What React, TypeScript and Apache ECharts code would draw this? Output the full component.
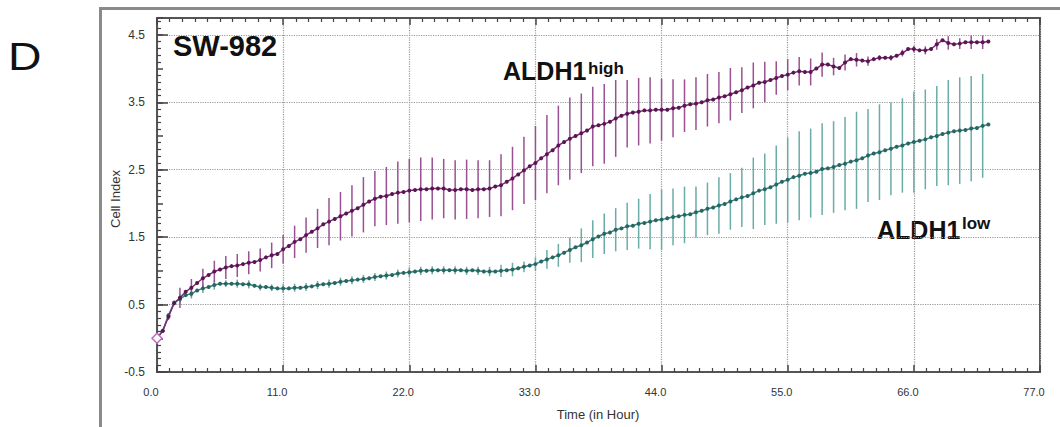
import React, { useEffect, useRef } from 'react';
import * as echarts from 'echarts';

// Sampling: one reading every 0.5 h, error bars every 1 h (from 1 h)
const SAMPLE_STEP_H = 0.5;
const ERR_FIRST_H = 1;

// ALDH1 high – mean Cell Index (0 h .. 72.5 h, step 0.5 h)
const highMean = [
  0.00, 0.11, 0.32, 0.52, 0.60, 0.69, 0.75, 0.82, 0.89, 0.94,
  0.99, 1.02, 1.05, 1.07, 1.08, 1.10, 1.12, 1.13, 1.16, 1.20,
  1.23, 1.25, 1.32, 1.37, 1.43, 1.47, 1.53, 1.58, 1.63, 1.69,
  1.73, 1.77, 1.81, 1.85, 1.89, 1.93, 1.98, 2.03, 2.07, 2.10,
  2.11, 2.14, 2.16, 2.17, 2.19, 2.20, 2.21, 2.21, 2.22, 2.22,
  2.22, 2.20, 2.20, 2.21, 2.21, 2.20, 2.21, 2.21, 2.22, 2.25,
  2.27, 2.32, 2.37, 2.43, 2.49, 2.55, 2.60, 2.67, 2.73, 2.79,
  2.86, 2.91, 2.96, 3.00, 3.04, 3.08, 3.14, 3.16, 3.18, 3.21,
  3.26, 3.30, 3.33, 3.35, 3.36, 3.38, 3.38, 3.39, 3.39, 3.39,
  3.41, 3.42, 3.45, 3.47, 3.48, 3.50, 3.53, 3.54, 3.57, 3.59,
  3.62, 3.65, 3.68, 3.72, 3.75, 3.79, 3.80, 3.83, 3.86, 3.89,
  3.91, 3.94, 3.96, 3.95, 3.95, 4.00, 4.06, 4.06, 4.03, 4.01,
  4.09, 4.14, 4.13, 4.12, 4.11, 4.14, 4.16, 4.16, 4.16, 4.19,
  4.23, 4.29, 4.29, 4.27, 4.27, 4.29, 4.36, 4.42, 4.38, 4.36,
  4.37, 4.39, 4.39, 4.39, 4.39, 4.40,
];

// ALDH1 low – mean Cell Index (0 h .. 72.5 h, step 0.5 h)
const lowMean = [
  0.00, 0.11, 0.34, 0.53, 0.58, 0.64, 0.66, 0.71, 0.74, 0.76,
  0.79, 0.81, 0.81, 0.81, 0.81, 0.80, 0.80, 0.78, 0.76, 0.76,
  0.75, 0.74, 0.74, 0.74, 0.75, 0.75, 0.76, 0.77, 0.79, 0.80,
  0.81, 0.82, 0.84, 0.85, 0.86, 0.87, 0.88, 0.89, 0.91, 0.92,
  0.93, 0.94, 0.96, 0.97, 0.98, 0.99, 1.00, 1.00, 1.01, 1.01,
  1.01, 1.01, 1.01, 1.01, 1.00, 1.01, 1.00, 0.99, 0.99, 0.99,
  1.00, 1.01, 1.02, 1.04, 1.06, 1.08, 1.10, 1.14, 1.17, 1.20,
  1.23, 1.27, 1.31, 1.35, 1.38, 1.42, 1.47, 1.51, 1.55, 1.57,
  1.61, 1.63, 1.66, 1.67, 1.70, 1.71, 1.73, 1.75, 1.76, 1.78,
  1.80, 1.81, 1.83, 1.84, 1.87, 1.89, 1.92, 1.94, 1.97, 1.99,
  2.03, 2.06, 2.09, 2.11, 2.15, 2.19, 2.21, 2.24, 2.28, 2.32,
  2.35, 2.39, 2.41, 2.44, 2.45, 2.47, 2.51, 2.52, 2.54, 2.57,
  2.59, 2.62, 2.64, 2.67, 2.71, 2.74, 2.76, 2.79, 2.81, 2.84,
  2.86, 2.89, 2.91, 2.93, 2.95, 2.98, 3.00, 3.03, 3.05, 3.07,
  3.08, 3.09, 3.11, 3.12, 3.15, 3.17,
];

// Standard deviation (half error bar), hours 1 .. 72
const highErr = [
  0.05, 0.15, 0.13, 0.14, 0.16, 0.17, 0.17, 0.17, 0.17, 0.19,
  0.21, 0.24, 0.26, 0.29, 0.35, 0.36, 0.38, 0.41, 0.41, 0.43,
  0.46, 0.47, 0.47, 0.46, 0.44, 0.44, 0.44, 0.43, 0.42, 0.46,
  0.47, 0.50, 0.55, 0.58, 0.59, 0.61, 0.59, 0.59, 0.59, 0.57,
  0.50, 0.50, 0.49, 0.46, 0.43, 0.39, 0.39, 0.39, 0.38, 0.39,
  0.34, 0.34, 0.30, 0.25, 0.23, 0.21, 0.20, 0.18, 0.13, 0.12,
  0.10, 0.07, 0.04, 0.04, 0.05, 0.05, 0.06, 0.08, 0.10, 0.08,
  0.10, 0.10,
];

const lowErr = [
  0.03, 0.08, 0.07, 0.07, 0.07, 0.05, 0.06, 0.06, 0.05, 0.05,
  0.07, 0.06, 0.06, 0.06, 0.06, 0.06, 0.06, 0.06, 0.06, 0.06,
  0.06, 0.07, 0.06, 0.06, 0.06, 0.06, 0.06, 0.06, 0.07, 0.09,
  0.10, 0.08, 0.10, 0.14, 0.17, 0.19, 0.25, 0.28, 0.30, 0.32,
  0.35, 0.37, 0.41, 0.45, 0.42, 0.42, 0.38, 0.39, 0.42, 0.42,
  0.44, 0.53, 0.53, 0.58, 0.63, 0.66, 0.66, 0.68, 0.68, 0.69,
  0.72, 0.69, 0.71, 0.69, 0.70, 0.75, 0.74, 0.74, 0.78, 0.79,
  0.78, 0.77,
];

const X_MIN = 0;
const X_MAX = 77;
const X_INTERVAL = 11;
const Y_MIN = -0.5;
const Y_MAX = 4.75;
const Y_INTERVAL = 0.5;
const Y_LABELED = [-0.5, 0.5, 1.5, 2.5, 3.5, 4.5];

const FONT = 'Arial, "Liberation Sans", Helvetica, sans-serif';

const HIGH_LINE = '#7a2a72';
const HIGH_DOT = '#5a1553';
const HIGH_BAR = '#9a5193';
const LOW_LINE = '#3a7f7b';
const LOW_DOT = '#276763';
const LOW_BAR = '#6aaca7';

function meanSeriesData(values: number[], withDiamond: boolean) {
  return values.map((v, i) => {
    const t = i * SAMPLE_STEP_H;
    if (i === 0 && withDiamond) {
      return {
        value: [t, v],
        symbol: 'diamond',
        symbolSize: 10,
        itemStyle: { color: '#ffffff', borderColor: '#c06ac0', borderWidth: 1.5 },
      };
    }
    return [t, v];
  });
}

function errSeriesData(values: number[], errs: number[]) {
  return errs.map((e, k) => {
    const t = ERR_FIRST_H + k;
    const idx = Math.round(t / SAMPLE_STEP_H);
    return [t, values[idx], e];
  });
}

function errRenderer(color: string) {
  return (params: any, api: any) => {
    const t = api.value(0);
    const m = api.value(1);
    const e = api.value(2);
    const p1 = api.coord([t, m + e]);
    const p2 = api.coord([t, m - e]);
    return {
      type: 'line',
      shape: { x1: p1[0], y1: p1[1], x2: p2[0], y2: p2[1] },
      style: { stroke: color, lineWidth: 1.5 },
    };
  };
}

export default function App() {
  const ref = useRef<HTMLDivElement>(null);

  useEffect(() => {
    if (!ref.current) return;
    const chart = echarts.init(ref.current, undefined, { renderer: 'svg' });

    const axisLineStyle = { color: '#555', width: 2 };

    chart.setOption({
      animation: false,
      backgroundColor: '#ffffff',
      grid: {
        left: 157,
        right: 20,
        top: 18,
        bottom: 55,
        show: true,
        borderColor: '#555',
        borderWidth: 2,
        backgroundColor: 'transparent',
      },
      xAxis: [
        {
          type: 'value',
          min: X_MIN,
          max: X_MAX,
          interval: X_INTERVAL,
          position: 'bottom',
          axisLine: { show: true, onZero: false, lineStyle: axisLineStyle },
          axisTick: { show: true, inside: true, length: 7, lineStyle: { color: '#444', width: 1.5 } },
          minorTick: { show: true, splitNumber: 10, length: 4, lineStyle: { color: '#444', width: 1.2 } },
          axisLabel: {
            show: true,
            margin: 14,
            fontSize: 11,
            fontFamily: FONT,
            color: '#333',
            padding: [0, 12, 0, 0],
            formatter: (v: number) => v.toFixed(1),
          },
          splitLine: { show: true, lineStyle: { color: '#999', type: 'dotted', width: 1.2 } },
          minorSplitLine: { show: false },
        },
        {
          type: 'value',
          min: X_MIN,
          max: X_MAX,
          interval: X_INTERVAL,
          position: 'top',
          axisLine: { show: true, onZero: false, lineStyle: axisLineStyle },
          axisTick: { show: true, inside: true, length: 7, lineStyle: { color: '#444', width: 1.5 } },
          minorTick: { show: true, splitNumber: 10, length: 4, lineStyle: { color: '#444', width: 1.2 } },
          axisLabel: { show: false },
          splitLine: { show: false },
        },
      ],
      yAxis: [
        {
          type: 'value',
          min: Y_MIN,
          max: Y_MAX,
          interval: Y_INTERVAL,
          position: 'left',
          axisLine: { show: true, onZero: false, lineStyle: axisLineStyle },
          axisTick: { show: true, inside: true, length: 6, lineStyle: { color: '#444', width: 1.5 } },
          minorTick: { show: true, splitNumber: 5, length: 4, lineStyle: { color: '#444', width: 1.2 } },
          axisLabel: {
            show: true,
            margin: 12,
            fontSize: 12,
            fontFamily: FONT,
            color: '#333',
            formatter: (v: number) => {
              const hit = Y_LABELED.some((l) => Math.abs(l - v) < 1e-6);
              return hit ? v.toFixed(1) : '';
            },
          },
          splitLine: {
            show: true,
            lineStyle: { color: ['#999', 'rgba(0,0,0,0)'], type: 'dotted', width: 1.2 },
          },
        },
        {
          type: 'value',
          min: Y_MIN,
          max: Y_MAX,
          position: 'left',
          axisLine: { show: false, onZero: false },
          axisTick: {
            show: true,
            inside: true,
            length: 11,
            customValues: Y_LABELED,
            lineStyle: { color: '#444', width: 1.5 },
          },
          axisLabel: { show: false },
          splitLine: { show: false },
        },
      ],
      series: [
        {
          type: 'custom',
          name: 'ALDH1 low SD',
          xAxisIndex: 0,
          yAxisIndex: 0,
          renderItem: errRenderer(LOW_BAR),
          encode: { x: 0, y: 1 },
          data: errSeriesData(lowMean, lowErr),
          clip: true,
          z: 2,
        },
        {
          type: 'custom',
          name: 'ALDH1 high SD',
          xAxisIndex: 0,
          yAxisIndex: 0,
          renderItem: errRenderer(HIGH_BAR),
          encode: { x: 0, y: 1 },
          data: errSeriesData(highMean, highErr),
          clip: true,
          z: 2,
        },
        {
          type: 'line',
          name: 'ALDH1 low',
          xAxisIndex: 0,
          yAxisIndex: 0,
          data: meanSeriesData(lowMean, false),
          symbol: 'circle',
          symbolSize: 4,
          showAllSymbol: true,
          lineStyle: { color: LOW_LINE, width: 1.5 },
          itemStyle: { color: LOW_DOT },
          z: 3,
        },
        {
          type: 'line',
          name: 'ALDH1 high',
          xAxisIndex: 0,
          yAxisIndex: 0,
          data: meanSeriesData(highMean, true),
          symbol: 'circle',
          symbolSize: 4,
          showAllSymbol: true,
          lineStyle: { color: HIGH_LINE, width: 1.5 },
          itemStyle: { color: HIGH_DOT },
          z: 4,
        },
      ],
      graphic: [
        {
          type: 'rect',
          shape: { x: 100.5, y: 8.5, width: 1000, height: 500 },
          style: { fill: 'none', stroke: '#8a8a8a', lineWidth: 3 },
          z: 0,
        },
        {
          type: 'text',
          x: 8,
          y: 57,
          scaleX: 1.22,
          style: { text: 'D', fontSize: 38, fontWeight: 'normal', fontFamily: FONT, fill: '#111', align: 'left', verticalAlign: 'middle' },
        },
        {
          type: 'text',
          x: 173,
          y: 46,
          style: { text: 'SW-982', font: `bold 29px ${FONT}`, fill: '#111', align: 'left', verticalAlign: 'middle' },
        },
        {
          type: 'text',
          x: 503,
          y: 71,
          style: { text: 'ALDH1', font: `bold 25px ${FONT}`, fill: '#111', align: 'left', verticalAlign: 'middle' },
        },
        {
          type: 'text',
          x: 588,
          y: 68,
          style: { text: 'high', font: `bold 17px ${FONT}`, fill: '#111', align: 'left', verticalAlign: 'middle' },
        },
        {
          type: 'text',
          x: 877,
          y: 229.5,
          style: { text: 'ALDH1', font: `bold 25px ${FONT}`, fill: '#111', align: 'left', verticalAlign: 'middle' },
        },
        {
          type: 'text',
          x: 962,
          y: 223,
          style: { text: 'low', font: `bold 17px ${FONT}`, fill: '#111', align: 'left', verticalAlign: 'middle' },
        },
        {
          type: 'text',
          x: 115,
          y: 199,
          rotation: Math.PI / 2,
          style: { text: 'Cell Index', font: `normal 13px ${FONT}`, fill: '#333', align: 'center', verticalAlign: 'middle' },
        },
        {
          type: 'text',
          x: 598,
          y: 414,
          style: { text: 'Time (in Hour)', font: `normal 13px ${FONT}`, fill: '#333', align: 'center', verticalAlign: 'middle' },
        },
      ],
    });

    return () => {
      chart.dispose();
    };
  }, []);

  return (
    <div style={{ position: 'fixed', left: 0, top: 0, width: 1060, height: 427, background: '#fff' }}>
      <div ref={ref} style={{ width: 1060, height: 427 }} />
    </div>
  );
}
